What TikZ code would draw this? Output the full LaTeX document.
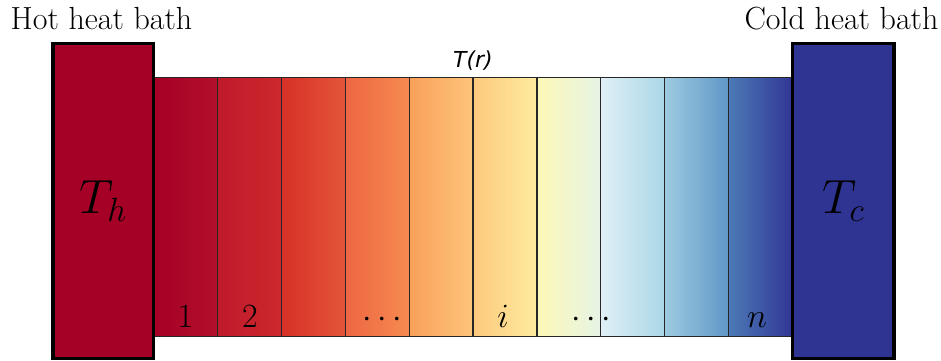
\RequirePackage{fix-cm}
\documentclass[tikz,border=0pt]{standalone}
\usepackage{fontspec}
\newfontfamily\djv{DejaVu Sans}
\definecolor{hot}{HTML}{A50026}
\definecolor{cold}{HTML}{2F3492}
\definecolor{aL}{HTML}{A50026}\definecolor{aR}{HTML}{B3102A}
\definecolor{bL}{HTML}{C01A2B}\definecolor{bR}{HTML}{CC282D}
\definecolor{cL}{HTML}{D73027}\definecolor{cR}{HTML}{E4553A}
\definecolor{dL}{HTML}{EE6643}\definecolor{dR}{HTML}{F68B50}
\definecolor{eL}{HTML}{F9A05A}\definecolor{eR}{HTML}{FDC47A}
\definecolor{fL}{HTML}{FDC97C}\definecolor{fR}{HTML}{FEEBA0}
\definecolor{gL}{HTML}{FCF8B6}\definecolor{gR}{HTML}{E6F4E6}
\definecolor{hL}{HTML}{DFF0F6}\definecolor{hR}{HTML}{AAD7E6}
\definecolor{iL}{HTML}{9DCBE0}\definecolor{iR}{HTML}{5F97C6}
\definecolor{jL}{HTML}{4B7AB6}\definecolor{jR}{HTML}{313695}
\tikzset{
  cell/.style={draw=black!85, line width=1.2pt, minimum width=63.9pt, minimum height=259pt, inner sep=0pt, outer sep=0pt},
  bath/.style={draw=black, line width=3.5pt, minimum height=315pt, inner sep=0pt, outer sep=0pt, font=\fontsize{48}{48}\selectfont},
  title/.style={anchor=base, inner sep=0pt, font=\fontsize{32}{32}\selectfont},
  lab/.style={anchor=base, inner sep=0pt, font=\fontsize{34}{34}\selectfont}
}
\begin{document}
\begin{tikzpicture}[x=1pt,y=1pt]
\useasboundingbox (0,0) rectangle (941,360);
\foreach \k/\c in {1/a,2/b,3/c,4/d,5/e,6/f,7/g,8/h,9/i,10/j}{
  \node[cell, left color=\c L, right color=\c R] (c\k) at ({153.5+63.9*(\k-0.5)},152.75) {};
}
\node[bath, fill=hot, minimum width=100.5pt] (hot) at (103.25,159) {$T_h$};
\node[bath, fill=cold, minimum width=101.5pt] (cold) at (843.25,159) {$T_c$};
\node[title] (hott) at (101.5,331) {Hot heat bath};
\node[title] (coldt) at (841.5,331) {Cold heat bath};
\node[anchor=base, inner sep=0pt, font=\djv\itshape\fontsize{22}{22}\selectfont] (tr) at (473,293) {T(r)};
\node[lab] (l1) at (185.5,33) {$1$};
\node[lab] (l2) at (250,33) {$2$};
\node[lab] (l3) at (382,33) {$\cdots$};
\node[lab] (l4) at (503,33) {$i$};
\node[lab] (l5) at (591,33) {$\cdots$};
\node[lab] (l6) at (757,33) {$n$};
\end{tikzpicture}
\end{document}
